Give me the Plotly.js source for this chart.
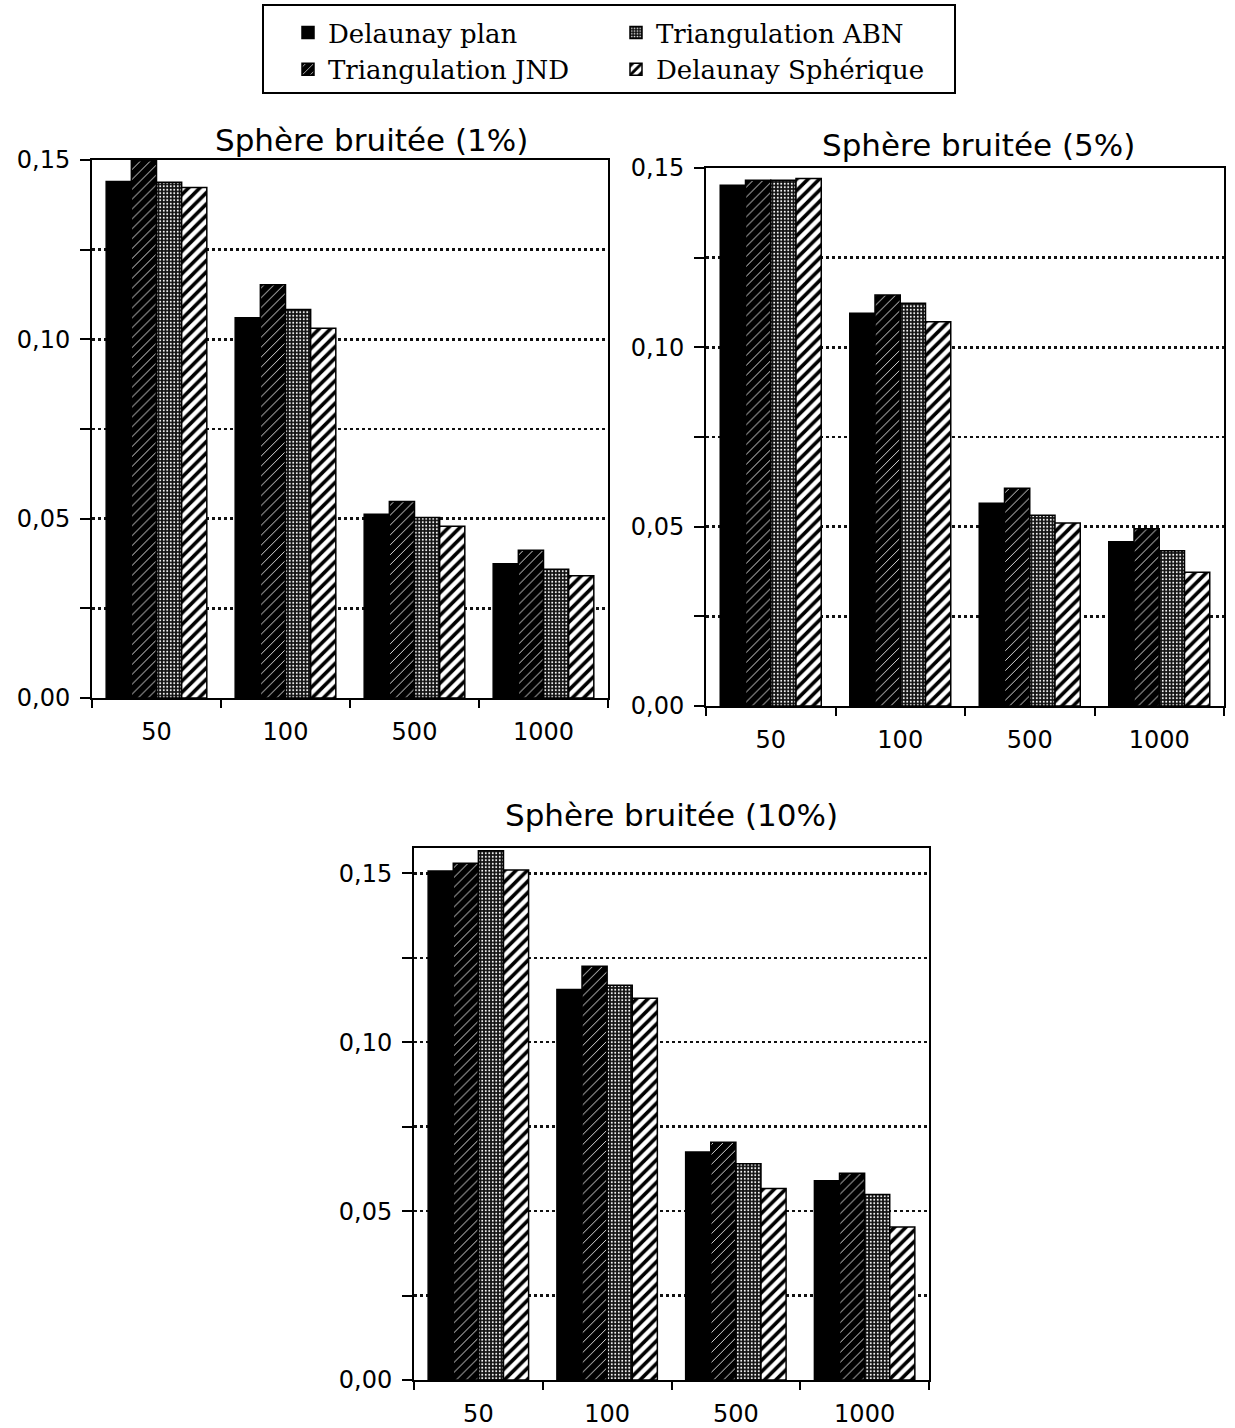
<!DOCTYPE html>
<html>
<head>
<meta charset="utf-8">
<script src="https://cdn.plot.ly/plotly-3.0.1.min.js"></script>
<style>html,body{margin:0;padding:0;background:#fff;overflow:hidden;}#chart{width:1235px;height:1428px;}</style>
</head>
<body>
<div id="chart"></div>
<script>
// ---- data ----
const categories = ['50', '100', '500', '1000'];
const seriesNames = ['Delaunay plan', 'Triangulation JND', 'Triangulation ABN', 'Delaunay Sphérique'];
const panelTitles = ['Sphère bruitée (1%)', 'Sphère bruitée (5%)', 'Sphère bruitée (10%)'];

// Sphère bruitée (1%)
const noise1_delaunayPlan = [0.1440, 0.1060, 0.0512, 0.0374];
const noise1_jnd          = [0.1498, 0.1152, 0.0548, 0.0412];
const noise1_abn          = [0.1438, 0.1083, 0.0503, 0.0359];
const noise1_spherique    = [0.1423, 0.1031, 0.0479, 0.0341];

// Sphère bruitée (5%)
const noise5_delaunayPlan = [0.1452, 0.1095, 0.0565, 0.0458];
const noise5_jnd          = [0.1466, 0.1146, 0.0607, 0.0494];
const noise5_abn          = [0.1466, 0.1123, 0.0532, 0.0433];
const noise5_spherique    = [0.1471, 0.1071, 0.0510, 0.0373];

// Sphère bruitée (10%)
const noise10_delaunayPlan = [0.1507, 0.1156, 0.0675, 0.0590];
const noise10_jnd          = [0.1530, 0.1225, 0.0704, 0.0612];
const noise10_abn          = [0.1567, 0.1169, 0.0640, 0.0549];
const noise10_spherique    = [0.1510, 0.1130, 0.0567, 0.0453];

// ---- styles ----
const seriesStyles = [
  {color: '#000', pattern: {shape: '', fillmode: 'replace'}},
  {color: '#000', pattern: {shape: '/', bgcolor: '#000', fgcolor: '#fff', size: 7, solidity: 0.12, fillmode: 'replace'}},
  {color: '#000', pattern: {shape: '.', bgcolor: '#111', fgcolor: '#fff', size: 3.5, solidity: 0.25, fillmode: 'replace'}},
  {color: '#fff', pattern: {shape: '/', bgcolor: '#fff', fgcolor: '#000', size: 8, solidity: 0.45, fillmode: 'replace'}}
];
const legendIds = ['legend', 'legend', 'legend2', 'legend2'];

const panels = [
  {xa: 'x', ya: 'y', series: [noise1_delaunayPlan, noise1_jnd, noise1_abn, noise1_spherique]},
  {xa: 'x2', ya: 'y2', series: [noise5_delaunayPlan, noise5_jnd, noise5_abn, noise5_spherique]},
  {xa: 'x3', ya: 'y3', series: [noise10_delaunayPlan, noise10_jnd, noise10_abn, noise10_spherique]}
];

const traces = [];
panels.forEach((p, pi) => {
  p.series.forEach((vals, si) => {
    traces.push({
      type: 'bar',
      x: categories,
      y: vals,
      xaxis: p.xa,
      yaxis: p.ya,
      name: seriesNames[si],
      legendgroup: seriesNames[si],
      legend: legendIds[si],
      showlegend: pi === 0,
      marker: {
        color: seriesStyles[si].color,
        pattern: seriesStyles[si].pattern,
        line: {color: '#000', width: 1.5}
      },
      hoverinfo: 'x+y+name'
    });
  });
});

const W = 1235, H = 1428;
function xd(a, b) { return [a / W, b / W]; }
function yd(top, bottom) { return [1 - bottom / H, 1 - top / H]; }

const tickFont = {family: 'DejaVu Sans, sans-serif', size: 24, color: '#000'};

function xaxis(dom, anchor) {
  return {
    domain: dom, anchor: anchor, type: 'category',
    showline: true, mirror: true, linecolor: '#000', linewidth: 2,
    ticks: 'outside', tickson: 'boundaries', ticklen: 8, tickwidth: 2, tickcolor: '#000',
    tickfont: tickFont, ticklabelstandoff: 11,
    showgrid: false, zeroline: false, fixedrange: true
  };
}
function yaxis(dom, anchor, top) {
  return {
    domain: dom, anchor: anchor, range: [0, top],
    showline: true, mirror: true, linecolor: '#000', linewidth: 2,
    tickvals: [0, 0.05, 0.10, 0.15], tickformat: '.2f',
    ticks: 'outside', ticklen: 10, tickwidth: 2, tickcolor: '#000',
    tickfont: tickFont, ticklabelstandoff: 5,
    showgrid: true, gridcolor: '#111', gridwidth: 2.5, griddash: 'dot',
    minor: {dtick: 0.025, tick0: 0, ticks: 'outside', ticklen: 10, tickwidth: 2, tickcolor: '#000',
            showgrid: true, gridcolor: '#111', gridwidth: 2.5, griddash: 'dot'},
    zeroline: false, fixedrange: true
  };
}

const titleFont = {family: 'DejaVu Sans, sans-serif', size: 31, color: '#000'};
const legendFont = {family: 'DejaVu Serif, serif', size: 26, color: '#000'};

const layout = {
  width: W, height: H,
  margin: {l: 0, r: 0, t: 0, b: 0},
  paper_bgcolor: '#fff', plot_bgcolor: '#fff',
  separators: ', ',
  barmode: 'group', bargap: 0.22, bargroupgap: 0,
  xaxis: xaxis(xd(92, 608), 'y'),
  yaxis: yaxis(yd(160, 698), 'x', 0.15),
  xaxis2: xaxis(xd(706, 1224), 'y2'),
  yaxis2: yaxis(yd(168, 706), 'x2', 0.15),
  xaxis3: xaxis(xd(414, 929), 'y3'),
  yaxis3: yaxis(yd(848, 1380), 'x3', 0.1575),
  legend: {
    orientation: 'v', x: 288 / W, xanchor: 'left', y: 1 - 9 / H, yanchor: 'top',
    borderwidth: 0, bgcolor: 'rgba(0,0,0,0)', font: legendFont, traceorder: 'normal', tracegroupgap: 0
  },
  legend2: {
    orientation: 'v', x: 616 / W, xanchor: 'left', y: 1 - 9 / H, yanchor: 'top',
    borderwidth: 0, bgcolor: 'rgba(0,0,0,0)', font: legendFont, traceorder: 'normal', tracegroupgap: 0
  },
  shapes: [
    {type: 'rect', xref: 'paper', yref: 'paper', x0: 263 / W, x1: 955 / W, y0: 1 - 93 / H, y1: 1 - 5 / H,
     line: {color: '#000', width: 2}, fillcolor: 'rgba(0,0,0,0)', layer: 'above'}
  ],
  annotations: [
    {text: panelTitles[0], xref: 'paper', yref: 'paper', x: 371 / W, y: 1 - 140 / H, showarrow: false, font: titleFont, xanchor: 'center', yanchor: 'middle'},
    {text: panelTitles[1], xref: 'paper', yref: 'paper', x: 978 / W, y: 1 - 145 / H, showarrow: false, font: titleFont, xanchor: 'center', yanchor: 'middle'},
    {text: panelTitles[2], xref: 'paper', yref: 'paper', x: 671 / W, y: 1 - 815 / H, showarrow: false, font: titleFont, xanchor: 'center', yanchor: 'middle'}
  ]
};

Plotly.newPlot('chart', traces, layout, {displayModeBar: false, staticPlot: true});
</script>
</body>
</html>
